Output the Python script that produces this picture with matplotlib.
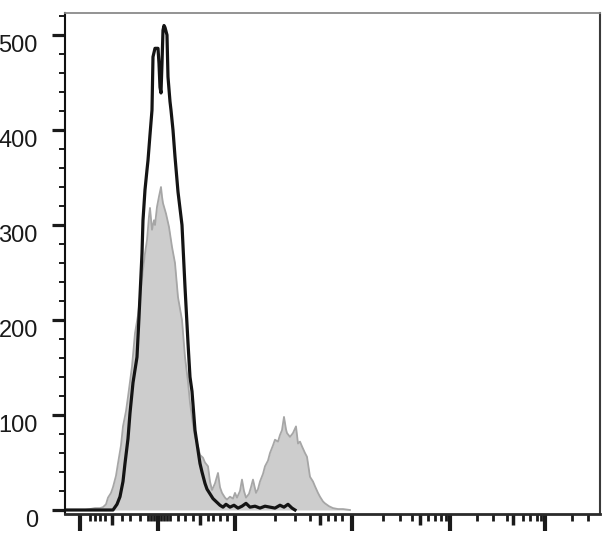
import matplotlib
matplotlib.use("Agg")
import matplotlib.pyplot as plt
from matplotlib.ticker import MultipleLocator, NullFormatter

plt.rcParams["font.family"] = ["Liberation Sans", "DejaVu Sans"]

# stained sample (filled grey): channel, count
sample_x = [0, 40, 50, 60, 70, 76, 82, 86, 92, 96, 102, 106, 112, 116, 122, 126,
            130, 134, 140, 146, 150, 156, 160, 164, 168, 170, 174, 178, 180, 184,
            188, 192, 194, 196, 202, 208, 214, 220, 226, 234, 240, 246, 250, 256,
            260, 266, 270, 276, 280, 286, 290, 294, 300, 306, 310, 314, 320, 324,
            330, 336, 340, 344, 350, 354, 358, 362, 368, 372, 376, 382, 386, 390,
            396, 400, 406, 410, 416, 420, 426, 430, 434, 438, 442, 444, 450, 456,
            462, 466, 470, 474, 480, 484, 490, 496, 500, 506, 510, 516, 520, 528,
            536, 546, 556, 570]
sample_counts = [0, 0, 1, 2, 2, 3, 6, 13, 18, 24, 36, 49, 68, 88, 104, 119,
                 135, 151, 186, 205, 224, 253, 270, 284, 309, 318, 295, 305, 300, 319,
                 330, 340, 330, 323, 312, 298, 277, 260, 224, 200, 161, 135, 113, 90,
                 77, 67, 58, 55, 50, 46, 30, 21, 28, 39, 24, 18, 13, 11,
                 14, 12, 18, 13, 20, 32, 20, 13, 17, 24, 32, 18, 22, 30,
                 38, 46, 52, 60, 68, 74, 72, 79, 84, 98, 85, 81, 77, 81,
                 88, 70, 72, 67, 60, 56, 35, 30, 25, 18, 14, 9, 7, 4,
                 2, 1, 1, 0]

# control (black outline): channel, count
control_x = [0, 70, 90, 96, 104, 110, 116, 120, 126, 130, 136, 144, 148, 154,
             156, 160, 164, 166, 170, 174, 176, 180, 186, 188, 190, 192, 194, 196,
             198, 200, 204, 206, 210, 212, 216, 220, 226, 234, 240, 246, 250, 254,
             260, 264, 270, 274, 280, 284, 290, 296, 304, 310, 316, 322, 330, 338,
             346, 354, 362, 370, 380, 390, 400, 410, 420, 430, 438, 446, 454, 460]
control_counts = [0, 0, 0, 0, 6, 14, 30, 49, 75, 102, 134, 161, 203, 270,
                  305, 337, 358, 368, 395, 421, 477, 486, 486, 470, 445, 439, 470, 505,
                  510, 508, 500, 456, 430, 421, 400, 372, 335, 300, 235, 176, 140, 125,
                  84, 70, 49, 40, 28, 22, 17, 12, 8, 5, 3, 6, 3, 5,
                  2, 4, 7, 3, 4, 2, 4, 3, 2, 5, 3, 6, 2, 0]

y_ticks = [0, 100, 200, 300, 400, 500]

# biexponential axis ticks, in channel units
x_major = [30, 186, 340, 574, 770, 960]
x_mid = [94, 270, 510, 710, 896]
x_minor = [50, 60, 70, 80, 114, 130, 150, 166, 172, 178, 192, 198, 204, 210,
           226, 240, 256, 286, 296, 310, 324, 420, 460, 490, 526, 540, 554,
           636, 670, 694, 726, 740, 752, 762, 824, 856, 884, 916, 930, 944,
           952, 1014, 1046]

fig = plt.figure(figsize=(6.08, 5.45), dpi=100)
ax = fig.add_axes([0.1069, 0.0569, 0.8799, 0.9198])

ax.fill_between(sample_x, sample_counts, 0, color="#cdcdcd", linewidth=0, zorder=2)
ax.plot(sample_x, sample_counts, color="#a6a6a6", linewidth=1.3, zorder=3)
ax.plot(control_x, control_counts, color="#141414", linewidth=2.3, zorder=4)

ax.set_xlim(0, 1070)
ax.set_ylim(-4.2, 523.5)

ax.set_yticks(y_ticks)
ax.yaxis.set_minor_locator(MultipleLocator(20))
for lab in ax.get_yticklabels():
    lab.set_verticalalignment("top")
ax.tick_params(axis="y", which="major", length=9.5, width=2.3, pad=10,
               labelsize=17, colors="#1a1a1a")
ax.tick_params(axis="y", which="minor", length=4.3, width=1.4, color="#1a1a1a")

ax.set_xticks(x_major)
ax.set_xticks(x_minor, minor=True)
ax.xaxis.set_major_formatter(NullFormatter())
ax.tick_params(axis="x", which="major", length=12, width=3, color="#1a1a1a")
ax.tick_params(axis="x", which="minor", length=5, width=2, color="#1a1a1a")

sec = ax.secondary_xaxis("bottom")
sec.set_xticks(x_mid)
sec.xaxis.set_major_formatter(NullFormatter())
sec.tick_params(axis="x", length=8, width=2.5, color="#1a1a1a")
sec.spines["bottom"].set_visible(False)

ax.spines["left"].set_color("#111111")
ax.spines["left"].set_linewidth(1.5)
ax.spines["bottom"].set_color("#2a2a2a")
ax.spines["bottom"].set_linewidth(2)
ax.spines["top"].set_color("#8a8a8a")
ax.spines["top"].set_linewidth(1.3)
ax.spines["right"].set_color("#3a3a3a")
ax.spines["right"].set_linewidth(1.5)

fig.savefig("out.png", dpi=100)
